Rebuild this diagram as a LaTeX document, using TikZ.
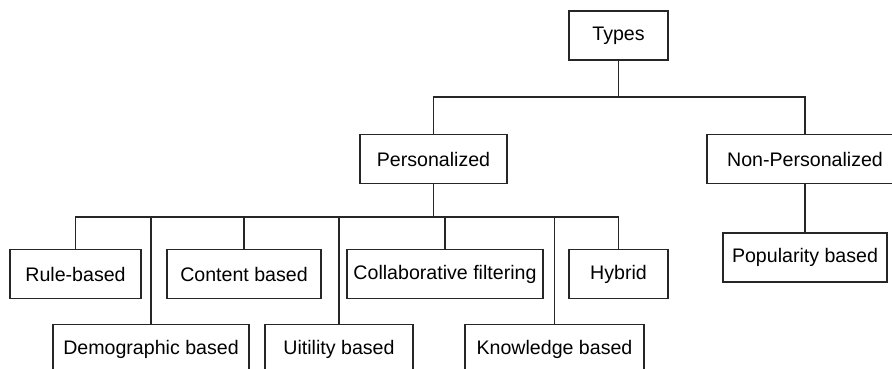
\documentclass[tikz,border=0pt]{standalone}
\usepackage{fontspec}
\setmainfont{Liberation Sans}
\usetikzlibrary{positioning}

\begin{document}
\begin{tikzpicture}[
        x=1pt, y=-1pt,
        box/.style={rectangle, draw=black!85, line width=1.4pt,
            minimum height=49pt, inner sep=0pt,
            font=\fontsize{19.6pt}{22pt}\selectfont, align=center},
        link/.style={draw=black!85, line width=1.4pt}
      ]
      \useasboundingbox (0,0) rectangle (892,369);
      \clip (0,0) rectangle (892,369);

      % Root and first level
      \node[box, minimum width=99pt]  at (618.5, 35.5) (types) {Types};
      \node[box, minimum width=147pt] at (433.5, 159)  (pers)  {Personalized};
      \node[box, minimum width=196pt] at (805,   159)  (nonp)  {Non-Personalized};
      \node[box, minimum width=164pt] at (805,   257.5) (pop)  {Popularity based};

      % Personalized, upper row
      \node[box, minimum width=131pt] at (75.5,  274) (rule)   {Rule-based};
      \node[box, minimum width=154pt] at (244,   274) (cont)   {Content based};
      \node[box, minimum width=196pt] at (445,   274) (collab) {Collaborative filtering};
      \node[box, minimum width=99pt]  at (618.5, 274) (hyb)    {Hybrid};

      % Personalized, lower row
      \node[box, minimum width=196pt] at (151,   349) (demo) {Demographic based};
      \node[box, minimum width=148pt] at (339,   349) (util) {Uitility based};
      \node[box, minimum width=179pt] at (554.5, 349) (know) {Knowledge based};

      % bus levels
      \coordinate (tbus) at (618.5, 97);
      \coordinate (pbus) at (433.5, 217);

      % Types -> Personalized / Non-Personalized
      \draw[link] (types) -- (tbus);
      \draw[link] (pers.north) |- (tbus) -| (nonp.north);
      \draw[link] (nonp) -- (pop);

      % Personalized -> children
      \draw[link] (pers) -- (pbus);
      \draw[link] (rule.north) |- (pbus) -| (hyb.north);
      \draw[link] (cont.north)   -- (cont.north |- pbus);
      \draw[link] (collab.north) -- (collab.north |- pbus);
      \draw[link] (demo.north)   -- (demo.north |- pbus);
      \draw[link] (util.north)   -- (util.north |- pbus);
      \draw[link] (know.north)   -- (know.north |- pbus);
    \end{tikzpicture}
\end{document}
